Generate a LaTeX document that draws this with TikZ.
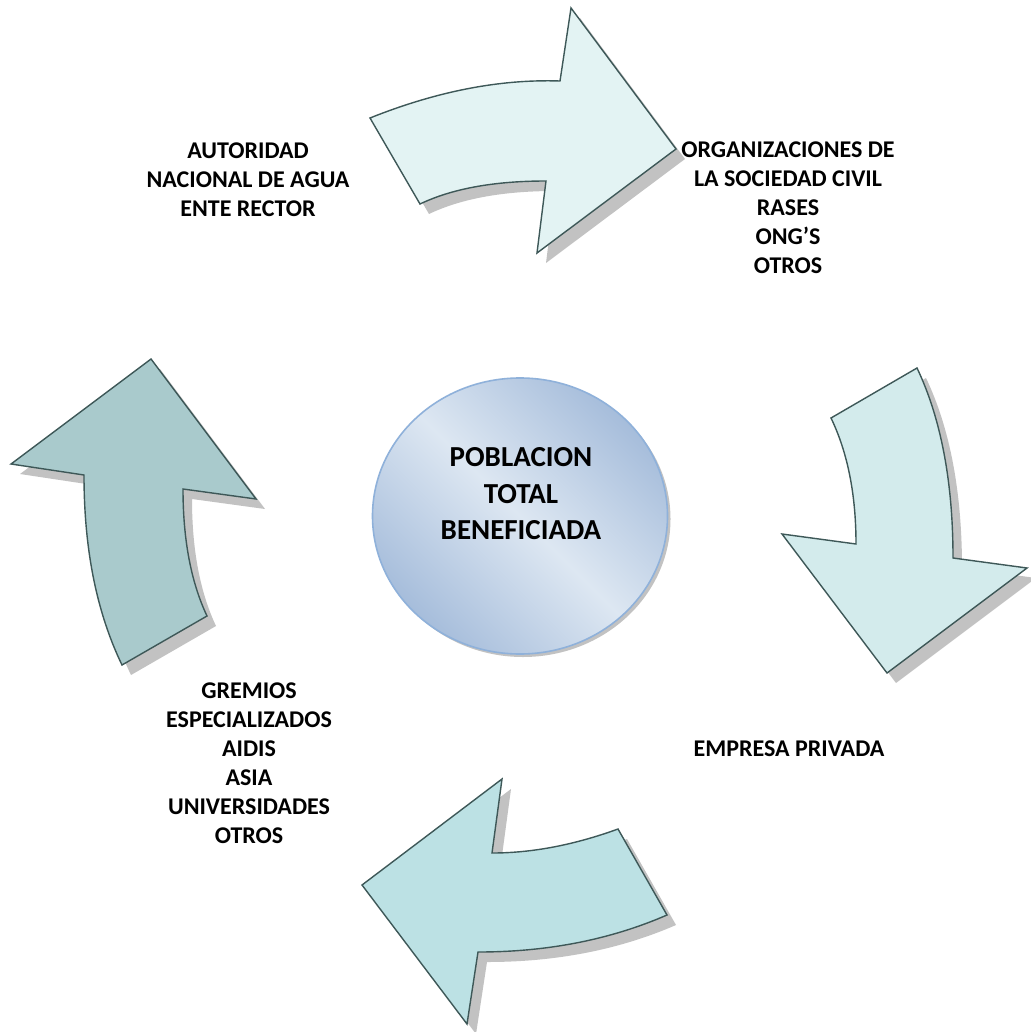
\documentclass[tikz,border=0pt]{standalone}
\usepackage{fontspec}
\setmainfont{Carlito}
\begin{document}
\begin{tikzpicture}[x=1pt,y=-1pt,
  arrowline/.style={draw=edgec,line width=1.4pt,line join=miter},
  shadowfill/.style={fill=shadowc},
  lbl/.style={align=center,font=\bfseries\fontsize{24}{29}\selectfont,inner sep=0pt},
  biglbl/.style={align=center,font=\bfseries\fontsize{29}{36.5}\selectfont,inner sep=0pt}]
\definecolor{edgec}{HTML}{3E5858}
\definecolor{shadowc}{HTML}{C2C2C2}
\definecolor{topc}{HTML}{E3F3F3}
\definecolor{rightc}{HTML}{D3EBEC}
\definecolor{botc}{HTML}{BCE1E4}
\definecolor{leftc}{HTML}{A9CACC}
\definecolor{circdark}{HTML}{A6BDDB}
\definecolor{circlight}{HTML}{DDE7F2}
\definecolor{circedge}{HTML}{8FB1DA}
\useasboundingbox (0,0) rectangle (1030,1032);
\fill[white] (0,0) rectangle (1030,1032);
\newcommand\toparrowpath{(370,118) .. controls (436.7,91.3) and (500,79) .. (560,81) -- (571,8) -- (676,149) -- (537,253) -- (546,181) .. controls (494,181) and (452,188.7) .. (420,204) -- cycle}
\newcommand\rightarrowpath{(917,368) -- (831,418) .. controls (847.7,452.7) and (856,494.7) .. (856,544) -- (782,534) -- (887,673) -- (1027,568) -- (953,558) .. controls (953,482) and (941,418.4) .. (917,368) -- cycle}
\newcommand\bottomarrowpath{(502,779) -- (362,885) -- (467,1024) -- (478,952) .. controls (547.3,952) and (610.3,939.7) .. (667,915) -- (618,829) .. controls (574,845) and (532,853) .. (492,853) -- cycle}
\newcommand\leftarrowpath{(151,359) -- (256,499) -- (183,489) .. controls (183,539.7) and (191,582) .. (207,616) -- (122,665) .. controls (96,611) and (84,547.7) .. (84,475) -- (11,464) -- cycle}
% shadows
\fill[shadowfill,shift={(9,10)}] \toparrowpath;
\fill[shadowfill,shift={(9,10)}] \rightarrowpath;
\fill[shadowfill,shift={(9,10)}] \bottomarrowpath;
\fill[shadowfill,shift={(9,10)}] \leftarrowpath;
% arrows
\path[arrowline,fill=topc] \toparrowpath;
\path[arrowline,fill=rightc] \rightarrowpath;
\path[arrowline,fill=botc] \bottomarrowpath;
\path[arrowline,fill=leftc] \leftarrowpath;
% centre circle
\fill[shadowc] (523,519) ellipse [x radius=147.5, y radius=138];
\shade[top color=circdark,bottom color=circdark,middle color=circlight,shading angle=-45] (520,516) ellipse [x radius=147.5, y radius=138];
\draw[circedge,line width=1.6pt] (520,516) ellipse [x radius=147.5, y radius=138];
\node[biglbl] (centre) at (521,494) {POBLACION\\TOTAL\\BENEFICIADA};
% labels
\node[lbl] (autoridad) at (248,180) {AUTORIDAD\\NACIONAL DE AGUA\\ENTE RECTOR};
\node[lbl] (organiz) at (788,207.5) {ORGANIZACIONES DE\\LA SOCIEDAD CIVIL\\RASES\\ONG’S\\OTROS};
\node[lbl] (empresa) at (789,749) {EMPRESA PRIVADA};
\node[lbl] (gremios) at (249,763.5) {GREMIOS\\ESPECIALIZADOS\\AIDIS\\ASIA\\UNIVERSIDADES\\OTROS};
\end{tikzpicture}
\end{document}
